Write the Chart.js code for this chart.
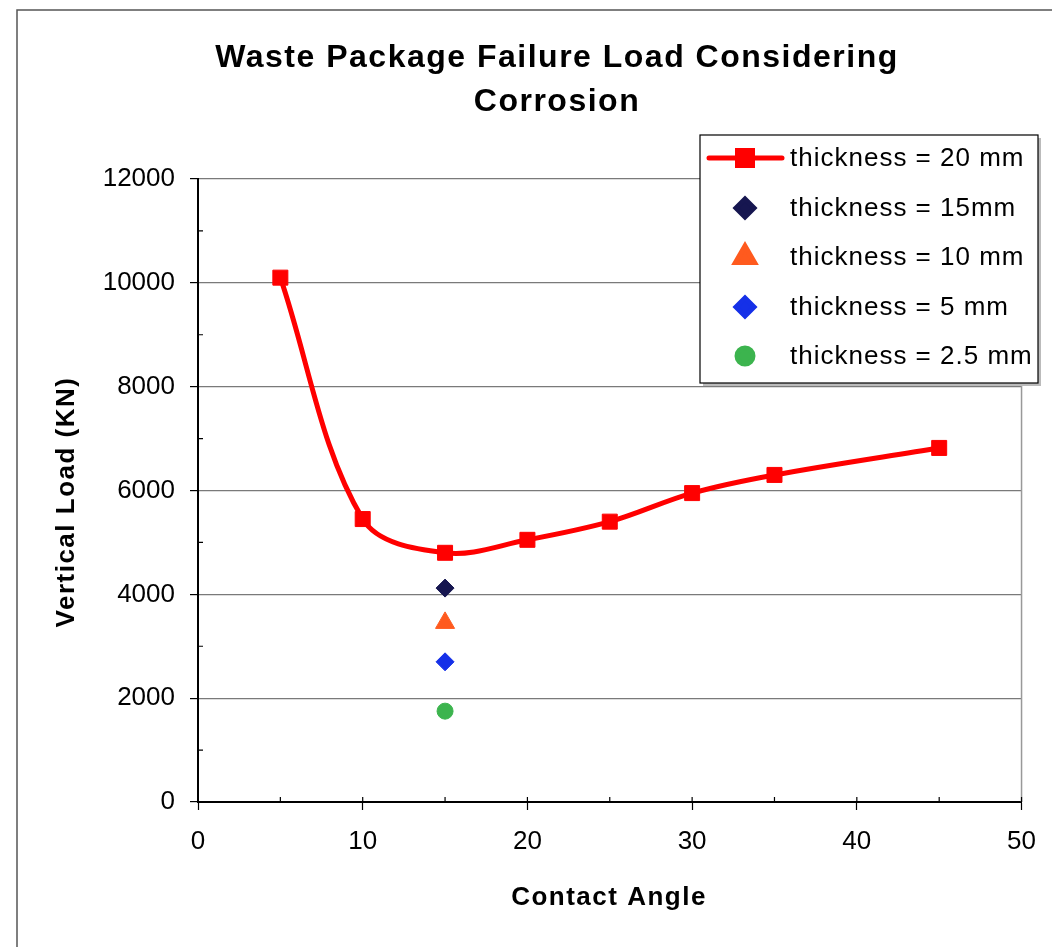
<!DOCTYPE html>
<html>
<head>
<meta charset="utf-8">
<title>Waste Package Failure Load Considering Corrosion</title>
<script src="https://cdn.jsdelivr.net/npm/chart.js@4.4.1/dist/chart.umd.min.js"></script>
<style>
  html, body { margin: 0; padding: 0; background: #fff; }
  #wrap { width: 1052px; height: 947px; position: relative; }
</style>
</head>
<body>
<div id="wrap"><canvas id="loadChart"></canvas></div>
<script>
// Contact angle (deg) vs vertical failure load (KN), 20 mm wall
const angles20 = [5, 10, 15, 20, 25, 30, 35, 45];
const load20 = [10100, 5450, 4800, 5050, 5400, 5950, 6300, 6820];

// thinner walls were only run at 15 deg
const anglesThin = [15];
const load15 = [4120];
const load10 = [3450];
const load5 = [2700];
const load2_5 = [1750];

const xTicks = [0, 10, 20, 30, 40, 50];
const yTicks = [0, 2000, 4000, 6000, 8000, 10000, 12000];

const seriesNames = ['thickness = 20 mm', 'thickness = 15mm', 'thickness = 10 mm', 'thickness = 5 mm', 'thickness = 2.5 mm'];
const seriesColors = ['#ff0000', '#161650', '#ff5a1e', '#1530e8', '#3cb44e'];

const toPoints = (xs, ys) => xs.map((x, i) => ({ x: x, y: ys[i] }));

function markerSet(name, color, xs, ys, style, radius) {
    return {
        label: name,
        data: toPoints(xs, ys),
        showLine: false,
        pointStyle: style,
        pointRadius: radius,
        pointBackgroundColor: color,
        pointBorderColor: color,
        pointBorderWidth: 1,
        backgroundColor: color,
        borderColor: color
    };
}

const datasets = [
    {
        label: seriesNames[0],
        data: toPoints(angles20, load20),
        borderColor: seriesColors[0],
        backgroundColor: seriesColors[0],
        borderWidth: 5,
        tension: 0.35,
        pointStyle: 'rect',
        pointRadius: 10.6,
        pointBackgroundColor: seriesColors[0],
        pointBorderColor: seriesColors[0],
        pointBorderWidth: 1
    },
    markerSet(seriesNames[1], seriesColors[1], anglesThin, load15, 'rectRot', 9),
    markerSet(seriesNames[2], seriesColors[2], anglesThin, load10, 'triangle', 11),
    markerSet(seriesNames[3], seriesColors[3], anglesThin, load5, 'rectRot', 9),
    markerSet(seriesNames[4], seriesColors[4], anglesThin, load2_5, 'circle', 8)
];

// titles, frame, minor ticks and the boxed legend
const decor = {
    id: 'decor',
    afterDraw(chart) {
        const ctx = chart.ctx;
        const area = chart.chartArea;
        const xs = chart.scales.x;
        const ys = chart.scales.y;
        ctx.save();

        // page frame
        ctx.strokeStyle = '#555';
        ctx.lineWidth = 1.5;
        ctx.beginPath();
        ctx.moveTo(17, 947);
        ctx.lineTo(17, 10);
        ctx.lineTo(1052, 10);
        ctx.stroke();

        // right edge of plot area
        ctx.strokeStyle = '#999';
        ctx.lineWidth = 1.5;
        ctx.beginPath();
        ctx.moveTo(area.right, area.top);
        ctx.lineTo(area.right, area.bottom);
        ctx.stroke();

        // inward tick marks
        ctx.strokeStyle = '#000';
        ctx.lineWidth = 1.2;
        ctx.beginPath();
        for (let v = 5; v <= 50; v += 5) {
            const px = xs.getPixelForValue(v);
            ctx.moveTo(px, area.bottom);
            ctx.lineTo(px, area.bottom - 5);
        }
        for (let v = 1000; v < 12000; v += 2000) {
            const py = ys.getPixelForValue(v);
            ctx.moveTo(area.left, py);
            ctx.lineTo(area.left + 5, py);
        }
        ctx.stroke();

        ctx.fillStyle = '#000';
        ctx.textBaseline = 'middle';
        ctx.textAlign = 'center';

        // chart title
        ctx.font = 'bold 32px "Liberation Sans", Arial, sans-serif';
        ctx.letterSpacing = '1.5px';
        ctx.fillText('Waste Package Failure Load Considering', 557, 58);
        ctx.fillText('Corrosion', 557, 102);

        // axis titles
        ctx.font = 'bold 26px "Liberation Sans", Arial, sans-serif';
        ctx.letterSpacing = '1.5px';
        ctx.fillText('Contact Angle', 609, 898);
        ctx.save();
        ctx.translate(67, 502);
        ctx.rotate(-Math.PI / 2);
        ctx.fillText('Vertical Load (KN)', 0, 0);
        ctx.restore();

        // legend
        const box = { x: 700, y: 135, w: 338, h: 248 };
        ctx.fillStyle = '#bbb';
        ctx.fillRect(box.x + 3, box.y + 3, box.w, box.h);
        ctx.fillStyle = '#fff';
        ctx.fillRect(box.x, box.y, box.w, box.h);
        ctx.strokeStyle = '#000';
        ctx.lineWidth = 1.2;
        ctx.strokeRect(box.x, box.y, box.w, box.h);

        const rowY = [158, 208, 257, 307, 356];
        ctx.font = '26px "Liberation Sans", Arial, sans-serif';
        ctx.letterSpacing = '1px';
        ctx.textAlign = 'left';
        chart.data.datasets.forEach((ds, i) => {
            const y = rowY[i];
            if (i === 0) {
                ctx.strokeStyle = ds.borderColor;
                ctx.lineWidth = ds.borderWidth;
                ctx.lineCap = 'round';
                ctx.beginPath();
                ctx.moveTo(709, y);
                ctx.lineTo(782, y);
                ctx.stroke();
            }
            ctx.fillStyle = ds.pointBackgroundColor;
            ctx.strokeStyle = ds.pointBorderColor;
            Chart.helpers.drawPoint(ctx, {
                pointStyle: ds.pointStyle,
                radius: ds.pointRadius,
                rotation: 0,
                borderWidth: 1
            }, 745, y);
            ctx.fillStyle = '#000';
            ctx.fillText(ds.label, 790, y + 1);
        });

        ctx.restore();
    }
};

const ctx1 = document.getElementById('loadChart').getContext('2d');

const chart1 = new Chart(ctx1, {
    type: 'line',
    data: { datasets: datasets },
    options: {
        responsive: true,
        maintainAspectRatio: false,
        animation: false,
        layout: {
            padding: { top: 179, left: 20, right: 30, bottom: 20 }
        },
        plugins: {
            legend: { display: false },
            title: { display: false },
            tooltip: { enabled: false }
        },
        scales: {
            x: {
                type: 'linear',
                min: xTicks[0],
                max: xTicks[xTicks.length - 1],
                afterFit: (scale) => { scale.height = 125; },
                afterBuildTicks: (scale) => { scale.ticks = xTicks.map(v => ({ value: v })); },
                ticks: {
                    color: '#000',
                    padding: 16,
                    maxRotation: 0,
                    font: { family: '"Liberation Sans", Arial, sans-serif', size: 26 }
                },
                grid: {
                    drawOnChartArea: false,
                    drawTicks: true,
                    tickLength: 8,
                    tickColor: '#000',
                    tickWidth: 1.2
                },
                border: { color: '#000', width: 2 }
            },
            y: {
                type: 'linear',
                min: yTicks[0],
                max: yTicks[yTicks.length - 1],
                afterFit: (scale) => { scale.width = 178; },
                afterBuildTicks: (scale) => { scale.ticks = yTicks.map(v => ({ value: v })); },
                ticks: {
                    color: '#000',
                    padding: 15,
                    callback: (v) => String(v),
                    font: { family: '"Liberation Sans", Arial, sans-serif', size: 26 }
                },
                grid: {
                    color: (c) => (c.tick && c.tick.value === 0) ? 'rgba(0,0,0,0)' : '#7a7a7a',
                    lineWidth: 1.2,
                    tickLength: 8,
                    tickColor: '#000',
                    tickWidth: 1.2
                },
                border: { color: '#000', width: 2 }
            }
        }
    },
    plugins: [decor]
});
</script>
</body>
</html>
